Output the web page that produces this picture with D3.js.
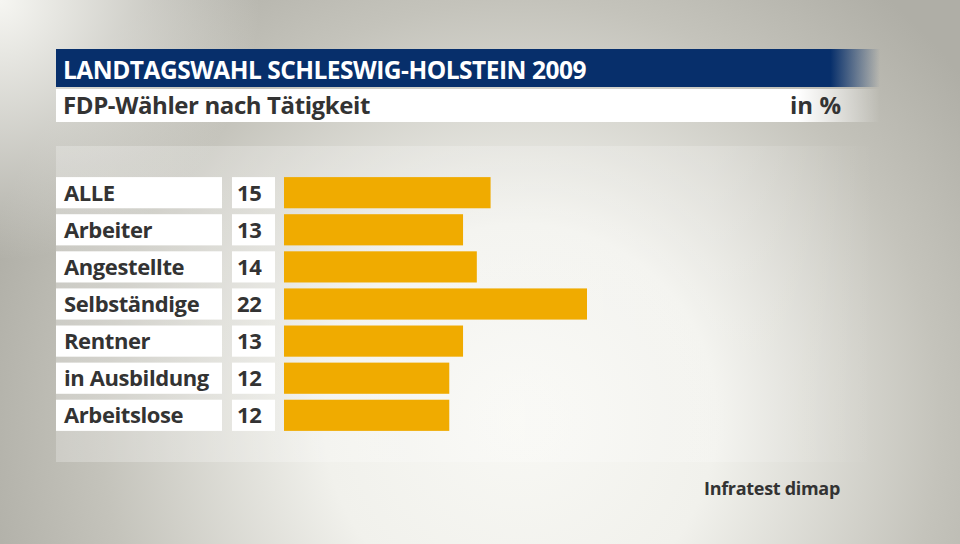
<!DOCTYPE html>
<html><head><meta charset="utf-8">
<script src="https://cdn.jsdelivr.net/npm/d3@7"></script>
<style>body{margin:0;}svg{display:block;}</style>
</head><body>
<script>
const categories = ["ALLE","Arbeiter","Angestellte","Selbständige","Rentner","in Ausbildung","Arbeitslose"];
const values = [15,13,14,22,13,12,12];
const title = "LANDTAGSWAHL SCHLESWIG-HOLSTEIN 2009";
const subtitle = "FDP-Wähler nach Tätigkeit";
const unit = "in %";
const source = "Infratest dimap";

const W=960,H=544;
const font = "'Open Sans', 'DejaVu Sans', sans-serif";
const svg = d3.select("body").append("svg").attr("width",W).attr("height",H);
const defs = svg.append("defs");

const bg = defs.append("radialGradient").attr("id","bg").attr("gradientUnits","userSpaceOnUse")
  .attr("cx",520).attr("cy",420).attr("r",560);
bg.append("stop").attr("offset",0).attr("stop-color","#f8f8f4");
bg.append("stop").attr("offset",0.35).attr("stop-color","#f1f1ec");
bg.append("stop").attr("offset",0.75).attr("stop-color","#c4c3bb");
bg.append("stop").attr("offset",1).attr("stop-color","#afaea6");
svg.append("rect").attr("width",W).attr("height",H).attr("fill","url(#bg)");

const tl = defs.append("radialGradient").attr("id","tl").attr("gradientUnits","userSpaceOnUse")
  .attr("cx",0).attr("cy",0).attr("r",260);
tl.append("stop").attr("offset",0).attr("stop-color","#f6f6f2").attr("stop-opacity",1);
tl.append("stop").attr("offset",1).attr("stop-color","#f6f6f2").attr("stop-opacity",0);
svg.append("rect").attr("width",W).attr("height",H).attr("fill","url(#tl)");

// panel
const pg = defs.append("linearGradient").attr("id","pg");
pg.append("stop").attr("offset",0).attr("stop-color","#ffffff").attr("stop-opacity",0.25);
pg.append("stop").attr("offset",0.8).attr("stop-color","#ffffff").attr("stop-opacity",0.2);
pg.append("stop").attr("offset",1).attr("stop-color","#ffffff").attr("stop-opacity",0);
svg.append("rect").attr("x",56).attr("y",146).attr("width",820).attr("height",316).attr("fill","url(#pg)");

// title bar
const tg = defs.append("linearGradient").attr("id","tg");
tg.append("stop").attr("offset",0).attr("stop-color","#072f6b");
tg.append("stop").attr("offset",0.94).attr("stop-color","#072f6b");
tg.append("stop").attr("offset",1).attr("stop-color","#072f6b").attr("stop-opacity",0);
svg.append("rect").attr("x",56).attr("y",49).attr("width",824).attr("height",38).attr("fill","url(#tg)");
const sg = defs.append("linearGradient").attr("id","sg");
sg.append("stop").attr("offset",0).attr("stop-color","#fff");
sg.append("stop").attr("offset",0.9).attr("stop-color","#fff");
sg.append("stop").attr("offset",1).attr("stop-color","#fff").attr("stop-opacity",0);
svg.append("rect").attr("x",56).attr("y",89).attr("width",824).attr("height",33).attr("fill","url(#sg)");

svg.append("text").attr("x",63).attr("y",79).text(title)
  .attr("font-family",font).attr("font-weight",700).attr("font-size",24.5).attr("fill","#fff").attr("letter-spacing",-0.5);
svg.append("text").attr("x",63).attr("y",114).text(subtitle)
  .attr("font-family",font).attr("font-weight",700).attr("font-size",24).attr("fill","#333").attr("letter-spacing",-0.4);
svg.append("text").attr("x",841).attr("y",114).attr("text-anchor","end").text(unit)
  .attr("font-family",font).attr("font-weight",700).attr("font-size",24).attr("fill","#333");

const y = d3.scaleBand().domain(categories).range([176,432]).paddingInner(0.16).paddingOuter(0.03);
const x = d3.scaleLinear().domain([0,22]).range([284,587]);

const rows = svg.append("g").selectAll("g").data(categories).join("g");
rows.append("rect").attr("x",56).attr("y",d=>y(d)).attr("width",166).attr("height",y.bandwidth()).attr("fill","#fff");
rows.append("rect").attr("x",232).attr("y",d=>y(d)).attr("width",43).attr("height",y.bandwidth()).attr("fill","#fff");
rows.append("rect").attr("x",x(0)).attr("y",d=>y(d)).attr("width",(d,i)=>x(values[i])-x(0)).attr("height",y.bandwidth()).attr("fill","#f0ab00");
rows.append("text").attr("x",64).attr("y",d=>y(d)+y.bandwidth()/2+8).text(d=>d)
  .attr("font-family",font).attr("font-weight",700).attr("font-size",22).attr("fill","#333").attr("letter-spacing",-0.4);
rows.append("text").attr("x",237).attr("y",d=>y(d)+y.bandwidth()/2+8).text((d,i)=>values[i])
  .attr("font-family",font).attr("font-weight",700).attr("font-size",22).attr("fill","#333").attr("letter-spacing",-0.4);

svg.append("text").attr("x",840).attr("y",495).attr("text-anchor","end").text(source)
  .attr("font-family",font).attr("font-weight",700).attr("font-size",18).attr("fill","#333").attr("letter-spacing",-0.3);
</script>
</body></html>
